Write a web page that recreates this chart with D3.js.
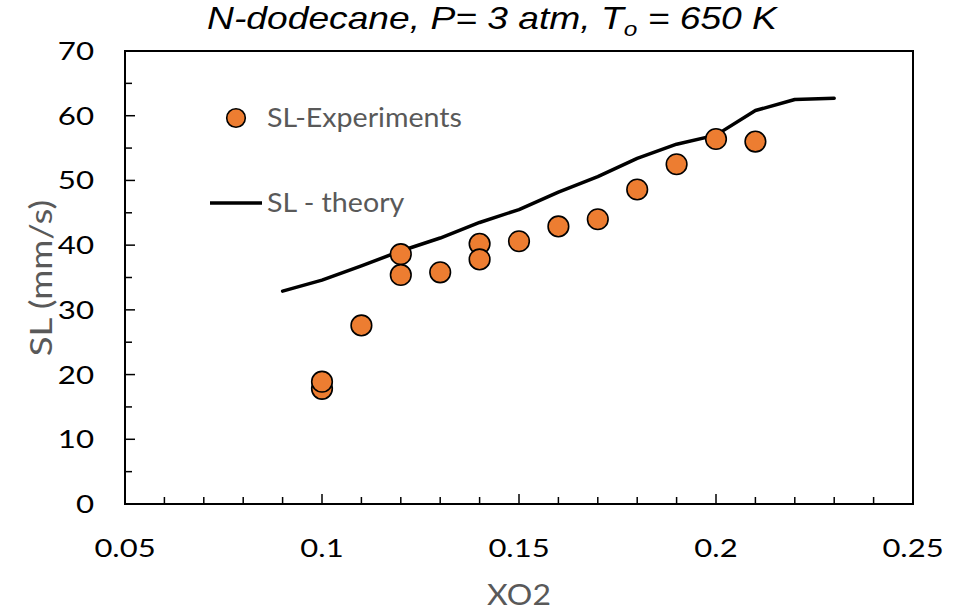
<!DOCTYPE html>
<html>
<head>
<meta charset="utf-8">
<script src="https://cdn.jsdelivr.net/npm/d3@7/dist/d3.min.js"></script>
<style>
  html, body { margin: 0; padding: 0; background: #fff; }
  svg { display: block; }
</style>
</head>
<body>
<div id="chart"></div>
<script>
// ---- data ----
const expX = [0.10, 0.10, 0.11, 0.12, 0.12, 0.13, 0.14, 0.14, 0.15, 0.16, 0.17, 0.18, 0.19, 0.20, 0.21];
const expSL = [17.8, 18.9, 27.6, 38.6, 35.4, 35.8, 40.2, 37.8, 40.6, 42.9, 44.0, 48.6, 52.5, 56.4, 56.0];
const theoryX = [0.09, 0.10, 0.11, 0.12, 0.13, 0.14, 0.15, 0.16, 0.17, 0.18, 0.19, 0.20, 0.21, 0.22, 0.23];
const theorySL = [32.9, 34.6, 36.8, 39.1, 41.1, 43.5, 45.5, 48.2, 50.6, 53.4, 55.6, 57.0, 60.8, 62.5, 62.7];
const xTicks = [0.05, 0.10, 0.15, 0.20, 0.25];
const xTickLabels = ["0.05", "0.1", "0.15", "0.2", "0.25"];
const yTicks = [0, 10, 20, 30, 40, 50, 60, 70];
const legendLabels = ["SL-Experiments", "SL - theory"];

const W = 971, H = 611;
const m = { left: 125, right: W - 913, top: 51, bottom: H - 504 };
const svg = d3.select("#chart").append("svg").attr("width", W).attr("height", H);

const x = d3.scaleLinear().domain([0.05, 0.25]).range([m.left, W - m.right]);
const y = d3.scaleLinear().domain([0, 70]).range([H - m.bottom, m.top]);

const lblFont = "Lato, 'Open Sans', sans-serif";
// text in the reference is stretched along its baseline
function placeText(sel, px, py, k, rot) {
  sel.attr("x", 0).attr("y", 0)
     .attr("transform", `translate(${px},${py})` + (rot ? ` rotate(${rot})` : "") + ` scale(${k},1)`);
  return sel;
}

// frame
svg.append("rect").attr("x", x(0.05)).attr("y", y(70))
  .attr("width", x(0.25) - x(0.05)).attr("height", y(0) - y(70))
  .attr("fill", "none").attr("stroke", "#000").attr("stroke-width", 2);

// x ticks (inside)
const xMinor = d3.range(0.06, 0.2451, 0.01).filter(v => Math.abs(Math.round(v * 20) - v * 20) > 1e-6);
svg.append("g").selectAll("line").data(xMinor).join("line")
  .attr("x1", d => x(d)).attr("x2", d => x(d)).attr("y1", y(0)).attr("y2", y(0) - 7)
  .attr("stroke", "#000").attr("stroke-width", 1.5);
svg.append("g").selectAll("line").data(xTicks.slice(1, -1)).join("line")
  .attr("x1", d => x(d)).attr("x2", d => x(d)).attr("y1", y(0)).attr("y2", y(0) - 10)
  .attr("stroke", "#000").attr("stroke-width", 1.5);

// y ticks (inside)
const yMinor = d3.range(5, 70, 10);
svg.append("g").selectAll("line").data(yMinor).join("line")
  .attr("x1", x(0.05)).attr("x2", x(0.05) + 7).attr("y1", d => y(d)).attr("y2", d => y(d))
  .attr("stroke", "#000").attr("stroke-width", 1.5);
svg.append("g").selectAll("line").data(yTicks.slice(1, -1)).join("line")
  .attr("x1", x(0.05)).attr("x2", x(0.05) + 10).attr("y1", d => y(d)).attr("y2", d => y(d))
  .attr("stroke", "#000").attr("stroke-width", 1.5);

// tick labels
svg.append("g").selectAll("text").data(yTicks).join("text")
  .attr("dy", "0.36em").attr("text-anchor", "end").attr("font-family", lblFont).attr("font-size", 25)
  .attr("fill", "#000").text(d => d)
  .each(function(d) { placeText(d3.select(this), 94, y(d), 1.25); });
svg.append("g").selectAll("text").data(xTicks).join("text")
  .attr("dy", "0.36em").attr("text-anchor", "middle").attr("font-family", lblFont).attr("font-size", 25)
  .attr("fill", "#000").text((d, i) => xTickLabels[i])
  .each(function(d) { placeText(d3.select(this), x(d), 548, 1.24); });

// axis titles
placeText(svg.append("text"), x(0.15), 595, 1.14)
  .attr("dy", "0.36em").attr("text-anchor", "middle").attr("font-family", lblFont).attr("font-size", 28)
  .attr("fill", "#595959").text("XO2");
placeText(svg.append("text"), 41, 278, 1.18, -90)
  .attr("dy", "0.36em").attr("text-anchor", "middle").attr("font-family", lblFont)
  .attr("font-size", 31).attr("fill", "#595959").text("SL (mm/s)");

// title
const title = placeText(svg.append("text"), 492, 29, 1.22)
  .attr("text-anchor", "middle").attr("font-family", "'Liberation Sans', Arial, sans-serif")
  .attr("font-style", "italic").attr("font-size", 30.5).attr("fill", "#000");
title.append("tspan").text("N-dodecane, P= 3 atm, T");
title.append("tspan").attr("font-size", 20).attr("dy", 7).text("o");
title.append("tspan").attr("dy", -7).text(" = 650 K");

// theory line
const line = d3.line().x((d, i) => x(theoryX[i])).y(d => y(d));
svg.append("path").datum(theorySL).attr("d", line)
  .attr("fill", "none").attr("stroke", "#000").attr("stroke-width", 3.5)
  .attr("stroke-linejoin", "round").attr("stroke-linecap", "round");

// experiment points
svg.append("g").selectAll("circle").data(expSL).join("circle")
  .attr("cx", (d, i) => x(expX[i])).attr("cy", d => y(d)).attr("r", 10.3)
  .attr("fill", "#ED7D31").attr("stroke", "#000").attr("stroke-width", 1.6);

// legend
const lg = svg.append("g");
lg.append("circle").attr("cx", 236).attr("cy", 118).attr("r", 9.3)
  .attr("fill", "#ED7D31").attr("stroke", "#000").attr("stroke-width", 1.6);
placeText(lg.append("text"), 267, 118, 1.1)
  .attr("dy", "0.36em").attr("font-family", lblFont).attr("font-size", 26)
  .attr("fill", "#595959").text(legendLabels[0]);
lg.append("line").attr("x1", 210).attr("x2", 262).attr("y1", 203).attr("y2", 203)
  .attr("stroke", "#000").attr("stroke-width", 3.5);
placeText(lg.append("text"), 267, 203, 1.1)
  .attr("dy", "0.36em").attr("font-family", lblFont).attr("font-size", 26)
  .attr("fill", "#595959").text(legendLabels[1]);
</script>
</body>
</html>
